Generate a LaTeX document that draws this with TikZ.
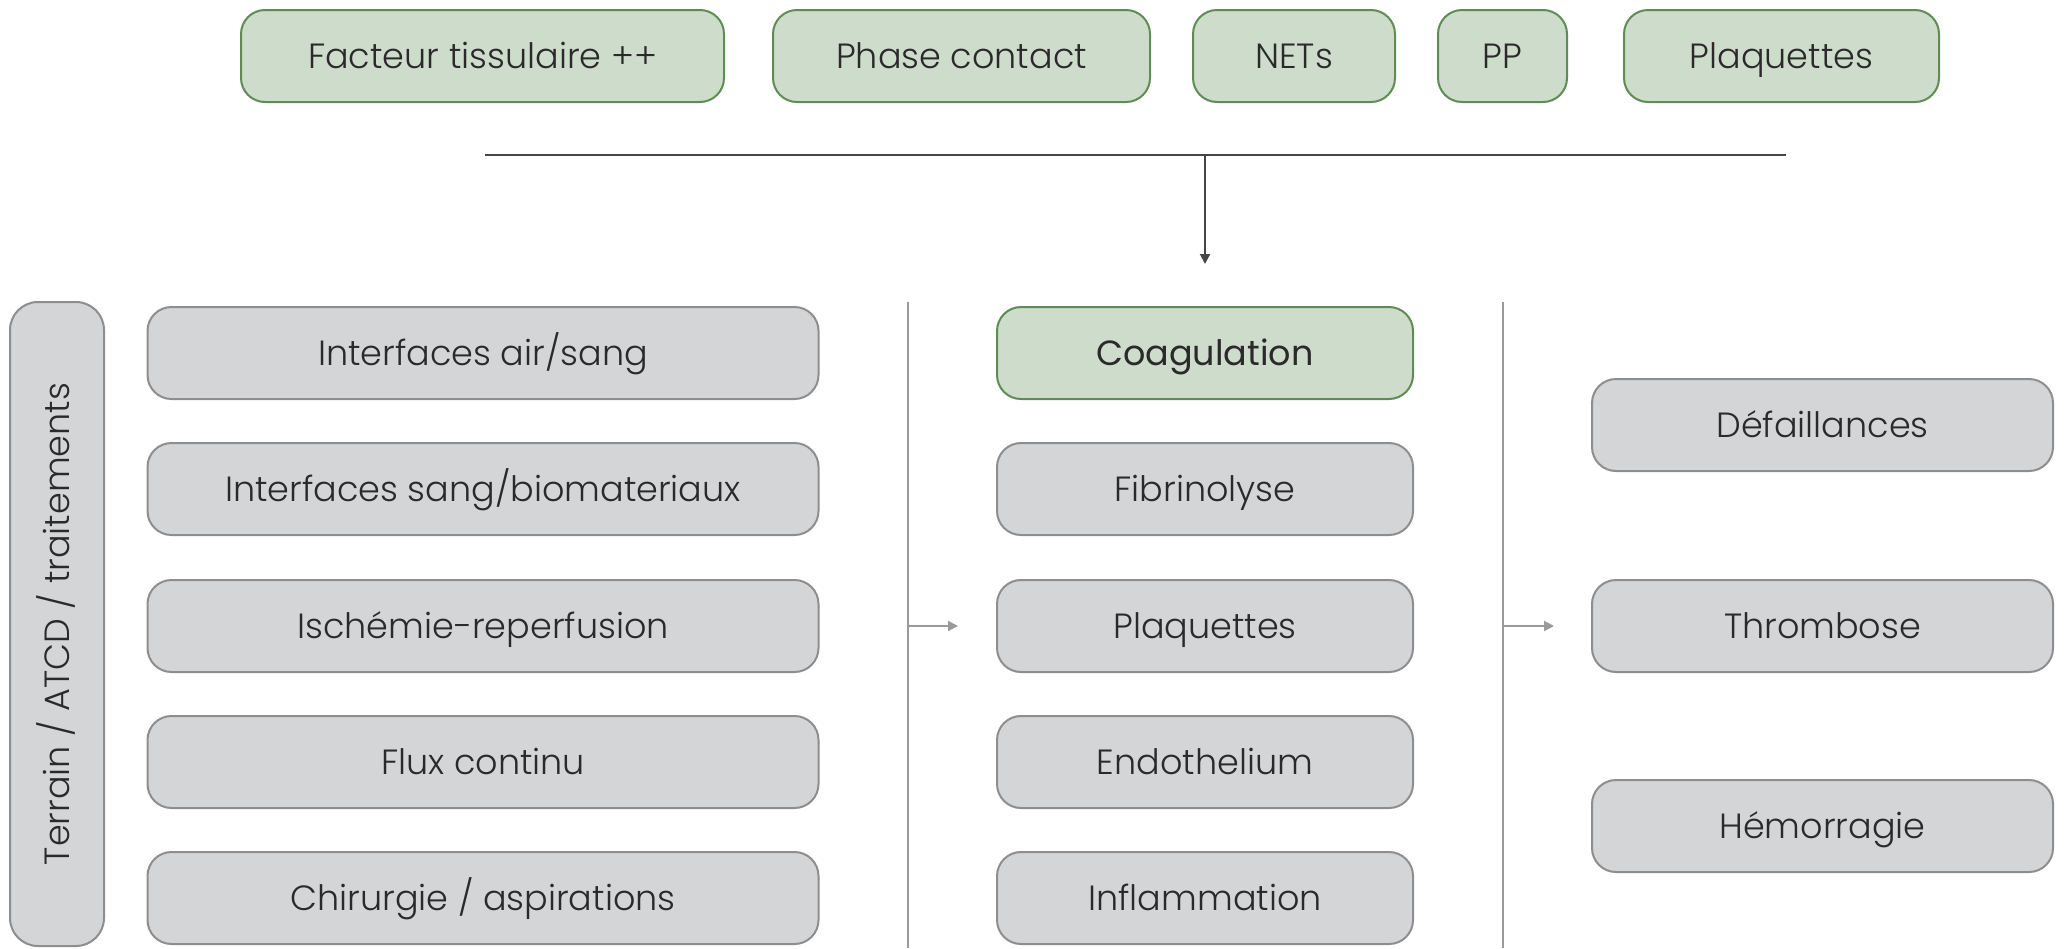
\documentclass[tikz,border=0pt]{standalone}
\usepackage{fontspec}
\setmainfont{Poppins}[UprightFont={* Light}]
\newfontfamily\medfont{Poppins}
\usetikzlibrary{arrows.meta}
\definecolor{greenfill}{HTML}{CEDCCB}
\definecolor{greenline}{HTML}{5E8C54}
\definecolor{grayfill}{HTML}{D4D5D7}
\definecolor{grayline}{HTML}{8E8E8E}
\definecolor{txt}{HTML}{2A2A2A}
\definecolor{divline}{HTML}{9A9A9A}
\definecolor{darkline}{HTML}{454545}
\tikzset{
  box/.style={draw, line width=1pt, rounded corners=12pt, align=center,
    text=txt, font=\fontsize{17.5}{20}\selectfont, inner sep=0pt,
    text height=12.3pt, text depth=0pt, minimum height=46pt},
  greenbox/.style={box, fill=greenfill, draw=greenline},
  graybox/.style={box, fill=grayfill, draw=grayline},
  divider/.style={draw=divline, line width=1pt},
  grayarrow/.style={draw=divline, line width=1pt, -{Triangle[length=5pt,width=5pt]}},
  darkarrow/.style={draw=darkline, line width=1pt, -{Triangle[length=5pt,width=5pt]}}
}
\begin{document}
\begin{tikzpicture}[x=0.5pt,y=-0.5pt]
\useasboundingbox (0,0) rectangle (2065,948);

% top row of triggers
\node[greenbox, minimum width=241.5pt] (ft)   at (482.5,56) {Facteur tissulaire ++};
\node[greenbox, minimum width=188.5pt] (pc)   at (961.5,56) {Phase contact};
\node[greenbox, minimum width=101pt]   (nets) at (1294,56)  {NETs};
\node[greenbox, minimum width=64.5pt]  (pp)   at (1502.5,56){PP};
\node[greenbox, minimum width=157.5pt] (plq)  at (1781.5,56){Plaquettes};

% collecting line and arrow down
\coordinate (hl) at (485,155);
\coordinate (hr) at (1786,155);
\coordinate (hm) at (1205,155);
\coordinate (hend) at (1205,264);
\draw[draw=darkline, line width=1pt] (hl) -- (hr);
\draw[darkarrow] (hm) -- (hend);

% left vertical label
\node[graybox, minimum width=47pt, minimum height=322pt, rounded corners=14pt] (terrain) at (57,624) {};
\node[rotate=90, text=txt, font=\fontsize{17.5}{20}\selectfont, inner sep=0pt,
  text height=12.3pt, text depth=0pt] (terraintxt) at (terrain.center) {Terrain / ATCD / traitements};

% left column
\node[graybox, minimum width=335.5pt] (l1) at (483,353) {Interfaces air/sang};
\node[graybox, minimum width=335.5pt] (l2) at (483,489) {Interfaces sang/biomateriaux};
\node[graybox, minimum width=335.5pt] (l3) at (483,626) {Ischémie-reperfusion};
\node[graybox, minimum width=335.5pt] (l4) at (483,762) {Flux continu};
\node[graybox, minimum width=335.5pt] (l5) at (483,898) {Chirurgie / aspirations};

% middle column
\node[greenbox, minimum width=208pt, font=\fontsize{17.5}{20}\selectfont\medfont] (coag) at (1205,353) {Coagulation};
\node[graybox, minimum width=208pt] (fib)  at (1205,489) {Fibrinolyse};
\node[graybox, minimum width=208pt] (plm)  at (1205,626) {Plaquettes};
\node[graybox, minimum width=208pt] (endo) at (1205,762) {Endothelium};
\node[graybox, minimum width=208pt] (infl) at (1205,898) {Inflammation};

% right column
\node[graybox, minimum width=230.5pt] (def)  at (1822.5,425) {Défaillances};
\node[graybox, minimum width=230.5pt] (thr)  at (1822.5,626) {Thrombose};
\node[graybox, minimum width=230.5pt] (hem)  at (1822.5,826) {Hémorragie};

% dividers with arrows
\coordinate (d1t) at (907.5,302);
\coordinate (d1b) at (907.5,948);
\coordinate (d1m) at (907.5,626);
\coordinate (d1e) at (958,626);
\coordinate (d2t) at (1503,302);
\coordinate (d2b) at (1503,948);
\coordinate (d2m) at (1503,626);
\coordinate (d2e) at (1554,626);
\draw[divider] (d1t) -- (d1b);
\draw[divider] (d2t) -- (d2b);
\draw[grayarrow] (d1m) -- (d1e);
\draw[grayarrow] (d2m) -- (d2e);
\end{tikzpicture}
\end{document}
